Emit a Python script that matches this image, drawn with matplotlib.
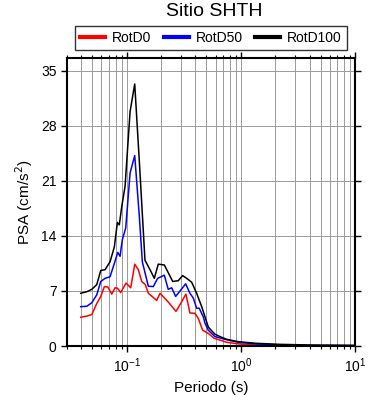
import matplotlib
matplotlib.use('Agg')
import matplotlib.pyplot as plt
from matplotlib.ticker import LogLocator, NullFormatter, MultipleLocator

plt.rcParams['font.family'] = ['Liberation Sans', 'DejaVu Sans']

# periods (s) and PSA (cm/s^2)
t_d100 = [0.0395, 0.0447, 0.0494, 0.0546, 0.0592, 0.0646, 0.0714, 0.0779, 0.0828, 0.0861,
          0.0904, 0.0967, 0.107, 0.1175, 0.1307, 0.1445, 0.160, 0.1745, 0.189, 0.2135,
          0.253, 0.283, 0.309, 0.335, 0.371, 0.410, 0.454, 0.519, 0.593, 0.656,
          0.751, 0.949, 1.374, 2.20, 4.28, 10.0]
psa_d100 = [6.7, 6.9, 7.2, 7.8, 9.6, 9.7, 10.7, 12.6, 15.7, 15.4,
            17.7, 20.3, 29.8, 33.3, 22.0, 10.9, 9.7, 8.6, 10.4, 10.3,
            8.2, 8.3, 8.95, 8.6, 8.1, 6.7, 5.0, 2.4, 1.5, 1.2,
            0.85, 0.55, 0.34, 0.21, 0.12, 0.08]

t_d50 = [0.0395, 0.0447, 0.0494, 0.0546, 0.0592, 0.0646, 0.0714, 0.0779, 0.0834, 0.0874,
         0.0914, 0.098, 0.107, 0.1175, 0.1289, 0.137, 0.1546, 0.171, 0.1867, 0.2135,
         0.231, 0.2477, 0.2685, 0.297, 0.3285, 0.358, 0.383, 0.410, 0.432, 0.469,
         0.485, 0.519, 0.555, 0.593, 0.726, 0.949, 1.374, 2.20, 4.28, 10.0]
psa_d50 = [5.0, 5.05, 5.5, 6.5, 8.2, 8.6, 8.8, 10.5, 11.9, 11.4,
           13.5, 15.0, 22.0, 24.2, 16.5, 10.7, 7.6, 7.55, 8.6, 9.0,
           7.2, 7.4, 6.3, 7.1, 7.9, 6.7, 6.1, 4.8, 4.8, 3.7,
           2.9, 2.0, 1.6, 1.2, 0.85, 0.47, 0.25, 0.14, 0.08, 0.05]

t_d0 = [0.0395, 0.0447, 0.0494, 0.0546, 0.0592, 0.0637, 0.0682, 0.0739, 0.079, 0.0828,
        0.0886, 0.0986, 0.1084, 0.1175, 0.1264, 0.1353, 0.1455, 0.1546, 0.183, 0.196,
        0.231, 0.270, 0.297, 0.330, 0.358, 0.396, 0.424, 0.463, 0.519, 0.581,
        0.656, 0.751, 0.949, 1.374, 2.20, 4.28, 10.0]
psa_d0 = [3.65, 3.8, 4.0, 5.4, 6.3, 7.55, 7.5, 6.6, 7.4, 7.35,
          6.8, 8.0, 7.4, 10.4, 9.7, 8.2, 7.8, 6.7, 5.8, 6.7,
          5.6, 4.4, 5.4, 6.6, 4.2, 4.15, 3.5, 2.0, 1.6, 1.0,
          0.75, 0.47, 0.27, 0.12, 0.06, 0.03, 0.02]

fig = plt.figure(figsize=(3.9, 4.0), dpi=100)
ax = fig.add_axes([0.172, 0.135, 0.738, 0.72])

ax.plot(t_d0, psa_d0, color='red', lw=1.1, label='RotD0')
ax.plot(t_d50, psa_d50, color='blue', lw=1.1, label='RotD50')
ax.plot(t_d100, psa_d100, color='black', lw=1.1, label='RotD100')

ax.set_xscale('log')
ax.set_xlim(0.03, 10)
ax.set_ylim(0, 36.6)
ax.yaxis.set_major_locator(MultipleLocator(7))
ax.xaxis.set_major_locator(LogLocator(base=10))
ax.xaxis.set_minor_locator(LogLocator(base=10, subs=range(2, 10)))
ax.xaxis.set_minor_formatter(NullFormatter())

ax.grid(True, which='major', color='#9a9a9a', lw=0.7)
ax.grid(True, which='minor', axis='x', color='#9a9a9a', lw=0.7)
ax.set_axisbelow(True)

ax.tick_params(which='both', direction='out', top=True, right=True, labelsize=10)
ax.tick_params(which='major', length=4, width=1)
ax.tick_params(which='minor', length=2.5, width=0.8)
for s in ax.spines.values():
    s.set_linewidth(1.5)

ax.set_xlabel('Periodo (s)', fontsize=11)
ax.set_ylabel('PSA (cm/s$^2$)', fontsize=11)
fig.suptitle('Sitio SHTH', fontsize=14, x=0.55, y=0.97, va='center')

leg = ax.legend(loc='lower center', bbox_to_anchor=(0.5, 1.028), ncol=3, fontsize=10,
                frameon=True, fancybox=False, handlelength=1.8, handletextpad=0.5,
                columnspacing=0.9, borderpad=0.35, borderaxespad=0)
leg.get_frame().set_edgecolor('black')
leg.get_frame().set_linewidth(1.0)
for line in leg.get_lines():
    line.set_linewidth(3)

fig.savefig('out.png', dpi=100)
